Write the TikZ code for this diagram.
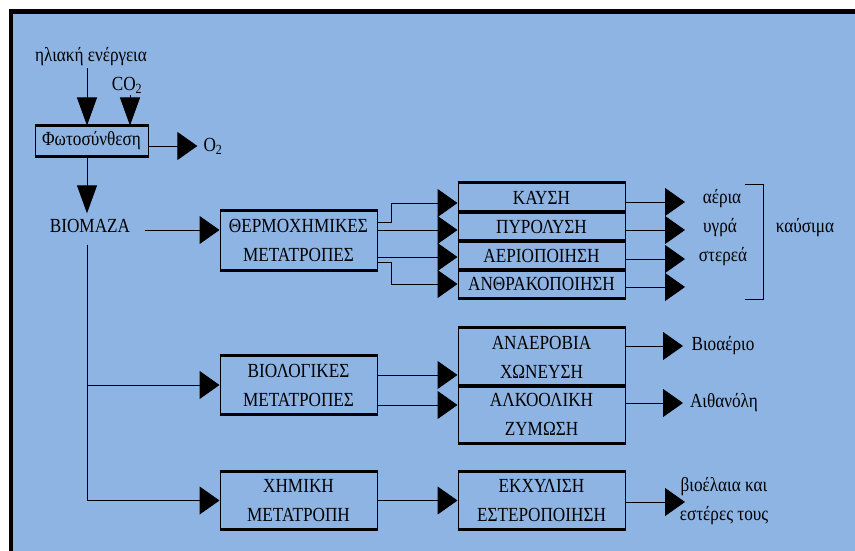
\documentclass[tikz,border=0pt]{standalone}
\usepackage{fontspec}
\setmainfont{Liberation Serif}
\usetikzlibrary{arrows.meta}
\definecolor{bg}{HTML}{8EB4E3}
\newcommand\sx[1]{\scalebox{0.86}[1]{#1}}
\tikzset{
 lbl/.style={font=\fontsize{20}{29}\selectfont, inner sep=2pt, align=center},
 box/.style={draw, line width=1pt, font=\fontsize{20}{29}\selectfont, align=center, inner sep=0pt, minimum width=167pt, minimum height=29pt},
 edge/.style={line width=1pt},
 harr/.style={line width=1pt, -{Triangle[length=20pt,width=28pt]}},
 varr/.style={line width=1pt, -{Triangle[length=28pt,width=20pt]}},
 rim/.style={line width=2.4pt},
}
\begin{document}
\begin{tikzpicture}[x=1pt,y=-1pt]
\useasboundingbox (0,0) rectangle (855,551);
\fill[white] (0,0) rectangle (855,551);
\fill[bg] (13,14) rectangle (855,551);
\draw[line width=5pt] (9,11.5) -- (855,11.5);
\draw[line width=4pt] (11,9) -- (11,551);

% top part
\node[lbl] (sun) at (91,57) {\sx{ηλιακή ενέργεια}};
\node[lbl] (co2) at (127,85) {\sx{CO\textsubscript{2}}};
\node[box, minimum width=113pt, minimum height=30pt] (photo) at (91.5,141) {\sx{Φωτοσύνθεση}};
\node[lbl, inner xsep=6pt] (o2) at (213,146) {\sx{O\textsubscript{2}}};
\node[lbl, inner xsep=15pt, inner ysep=6pt, text height=13pt, text depth=0pt] (bio) at (90,226) {\sx{ΒΙΟΜΑΖΑ}};

% thermochemical
\node[box, minimum width=157pt, minimum height=59pt] (thermo) at (298.5,240.5) {\sx{ΘΕΡΜΟΧΗΜΙΚΕΣ}\\\sx{ΜΕΤΑΤΡΟΠΕΣ}};
\node[box] (kaysi) at (541.5,197.5) {\sx{ΚΑΥΣΗ}};
\node[box] (pyro) at (541.5,226.5) {\sx{ΠΥΡΟΛΥΣΗ}};
\node[box] (aerio) at (541.5,255.5) {\sx{ΑΕΡΙΟΠΟΙΗΣΗ}};
\node[box, minimum height=28pt] (anthr) at (541.5,284) {\sx{ΑΝΘΡΑΚΟΠΟΙΗΣΗ}};
\node[lbl] (gas) at (722,199) {\sx{αέρια}};
\node[lbl] (liq) at (720,228) {\sx{υγρά}};
\node[lbl] (sol) at (723,257) {\sx{στερεά}};
\node[lbl] (fuel) at (805,228) {\sx{καύσιμα}};
\coordinate (t1) at (685,202);
\coordinate (t2) at (685,230);
\coordinate (t3) at (685,259);
\coordinate (t4) at (685,287);
\coordinate (b1) at (745,184);
\coordinate (b2) at (763,184);
\coordinate (b3) at (763,299);
\coordinate (b4) at (745,299);

% biological and chemical
\node[box, minimum width=157pt, minimum height=58pt] (biol) at (298.5,385) {\sx{ΒΙΟΛΟΓΙΚΕΣ}\\\sx{ΜΕΤΑΤΡΟΠΕΣ}};
\node[box, minimum width=157pt, minimum height=57pt] (chem) at (298.5,500.5) {\sx{ΧΗΜΙΚΗ}\\\sx{ΜΕΤΑΤΡΟΠΗ}};
\node[box, minimum height=58pt] (anaer) at (541.5,357) {\sx{ΑΝΑΕΡΟΒΙΑ}\\\sx{ΧΩΝΕΥΣΗ}};
\node[box, minimum height=57pt] (alko) at (541.5,414.5) {\sx{ΑΛΚΟΟΛΙΚΗ}\\\sx{ΖΥΜΩΣΗ}};
\node[box, minimum height=57pt] (ekx) at (541.5,500.5) {\sx{ΕΚΧΥΛΙΣΗ}\\\sx{ΕΣΤΕΡΟΠΟΙΗΣΗ}};
\node[lbl] (biogas) at (723,346) {\sx{Βιοαέριο}};
\node[lbl] (eth) at (724,403) {\sx{Αιθανόλη}};
\node[lbl] (oil) at (724,501) {\sx{βιοέλαια και}\\\sx{εστέρες τους}};
\coordinate (t5) at (683,346);
\coordinate (t6) at (683,403);
\coordinate (t7) at (685,502);

\foreach \n in {photo,thermo,kaysi,pyro,aerio,anthr,biol,chem,anaer,alko,ekx}
  \draw[rim] (\n.north west) -- (\n.north east) (\n.south west) -- (\n.south east);

% connectors
\draw[varr] ([xshift=-4pt]sun.south) -- ([xshift=-4.5pt]photo.north);
\draw[varr] ([xshift=3pt]co2.south) -- ([xshift=38.5pt]photo.north);
\draw[harr] ([yshift=-5pt]photo.east) -- (o2.west);
\draw[varr] ([xshift=-4.5pt]photo.south) -- ([xshift=-3pt]bio.north);
\draw[harr] ([yshift=-4pt]bio.east) -- ([yshift=10.5pt]thermo.west);

\draw[harr] ([yshift=18.5pt]thermo.east) -- ++(14,0) |- ([yshift=-5.5pt]kaysi.west);
\draw[harr] ([yshift=10.5pt]thermo.east) -- ([yshift=-3.5pt]pyro.west);
\draw[harr] ([yshift=-16.5pt]thermo.east) -- ([yshift=-1.5pt]aerio.west);
\draw[harr] ([yshift=-21.5pt]thermo.east) -- ++(14,0) |- (anthr.west);

\draw[harr] ([yshift=-4.5pt]kaysi.east) -- (t1);
\draw[harr] ([yshift=-3.5pt]pyro.east) -- (t2);
\draw[harr] ([yshift=-3.5pt]aerio.east) -- (t3);
\draw[harr] ([yshift=-3pt]anthr.east) -- (t4);
\draw[edge] (b1) -- (b2) -- (b3) -- (b4);

\draw[harr] ([xshift=-3pt,yshift=-6pt]bio.south) |- (biol.west);
\draw[harr] ([xshift=-3pt,yshift=-6pt]bio.south) |- (chem.west);
\draw[harr] ([yshift=10pt]biol.east) -- ([yshift=-18pt]anaer.west);
\draw[harr] ([yshift=-20pt]biol.east) -- ([yshift=9.5pt]alko.west);
\draw[harr] (chem.east) -- (ekx.west);
\draw[harr] ([yshift=11pt]anaer.east) -- (t5);
\draw[harr] ([yshift=11.5pt]alko.east) -- (t6);
\draw[harr] ([yshift=-1.5pt]ekx.east) -- (t7);
\end{tikzpicture}
\end{document}
